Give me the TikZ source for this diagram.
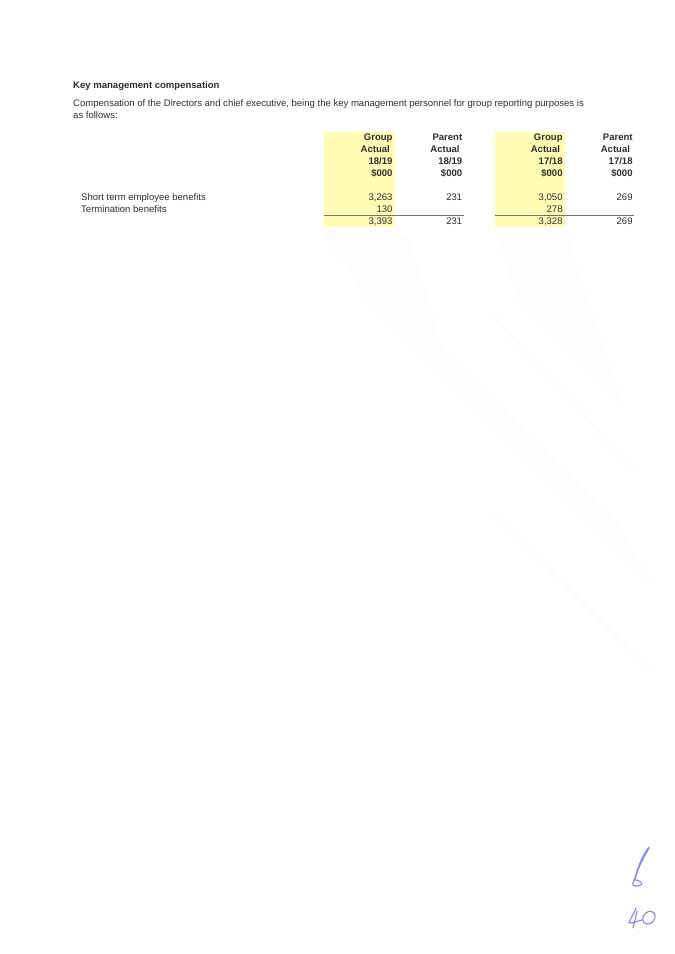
\documentclass[tikz,border=0pt]{standalone}
\usepackage{fontspec}
\setmainfont{Liberation Sans}
\definecolor{txt}{HTML}{2E2E2E}
\definecolor{hl}{HTML}{FFFDB4}
\definecolor{ghost}{HTML}{FEFBFE}
\definecolor{ink}{HTML}{8A84E6}
\tikzset{
 lab/.style={anchor=base west,inner sep=0pt,text=txt,font=\fontsize{9.54}{11}\selectfont},
 head/.style={lab,font=\fontsize{9.54}{11}\selectfont\bfseries},
 numr/.style={anchor=base east,inner sep=0pt,text=txt,font=\fontsize{9.54}{11}\selectfont},
 hnum/.style={numr,font=\fontsize{9.54}{11}\selectfont\bfseries},
 band/.style={fill=hl,draw=none},
 rulel/.style={draw=black!55,line width=1pt},
 ghostp/.style={fill=ghost,draw=none},
 pen/.style={draw=ink,line width=1.1pt,line cap=round,line join=round}
}
\begin{document}
\begin{tikzpicture}[x=1pt,y=-1pt]
\useasboundingbox (0,0) rectangle (675,954);
\fill[white] (0,0) rectangle (675,954);
% faint show-through
\fill[ghostp] (325,228)--(395,228)--(410,240)--(443,350)--(617,520)--(630,545)--(650,582)--(360,292)--(350,268)--(327,242)--cycle;
\fill[ghostp] (495,228)--(567,228)--(572,253)--(623,405)--(518,300)--cycle;
\fill[ghostp] (493,318)--(497,318)--(638,472)--(634,472)--cycle;
\fill[ghostp] (493,513)--(497,513)--(650,668)--(646,672)--cycle;
% highlight bands
\fill[band] (324.3,132.3) rectangle (394.7,226.7);
\fill[band] (494.7,132.3) rectangle (565,226.7);
\draw[rulel] (324.3,215)--(464,215);
\draw[rulel] (494.7,215)--(634,215);
% text
\node[head] (title) at (73,88) {Key management compensation};
\node[lab] (p1) at (73,106) {Compensation of the Directors and chief executive, being the key management personnel for group reporting purposes is};
\node[lab] (p2) at (73,118) {as follows:};
\node[lab] (r1) at (81,200.7) {Short term employee benefits};
\node[lab] (r2) at (81,212.5) {Termination benefits};
% column 1
\node[hnum] (a1) at (392.7,140) {Group};
\node[hnum] (a2) at (390,152.2) {Actual};
\node[hnum] (a3) at (392.7,164.3) {18/19};
\node[hnum] (a4) at (392.7,176.3) {\$000};
\node[numr] (a5) at (392.7,200.5) {3,263};
\node[numr] (a6) at (392.7,212.3) {130};
\node[numr] (a7) at (392.7,224.4) {3,393};
% column 2
\node[hnum] (b1) at (462.4,140) {Parent};
\node[hnum] (b2) at (459.8,152.2) {Actual};
\node[hnum] (b3) at (462.4,164.3) {18/19};
\node[hnum] (b4) at (462.4,176.3) {\$000};
\node[numr] (b5) at (462.4,200.5) {231};
\node[numr] (b7) at (462.4,224.4) {231};
% column 3
\node[hnum] (c1) at (562.8,140) {Group};
\node[hnum] (c2) at (560.2,152.2) {Actual};
\node[hnum] (c3) at (562.8,164.3) {17/18};
\node[hnum] (c4) at (562.8,176.3) {\$000};
\node[numr] (c5) at (562.8,200.5) {3,050};
\node[numr] (c6) at (562.8,212.3) {278};
\node[numr] (c7) at (562.8,224.4) {3,328};
% column 4
\node[hnum] (d1) at (632.8,140) {Parent};
\node[hnum] (d2) at (630.2,152.2) {Actual};
\node[hnum] (d3) at (632.8,164.3) {17/18};
\node[hnum] (d4) at (632.8,176.3) {\$000};
\node[numr] (d5) at (632.8,200.5) {269};
\node[numr] (d7) at (632.8,224.4) {269};
% handwriting
\draw[pen] (649,847) .. controls (643,855) and (638,866) .. (636,875) .. controls (635,879) and (632,883) .. (633,885) .. controls (635,887) and (640,886) .. (642,884) .. controls (641,881) and (637,880) .. (635,880) .. controls (636,870) and (644,857) .. (649,848);
\draw[pen] (648,849) .. controls (643,858) and (638,868) .. (635,878);
\draw[pen] (636,908) .. controls (634,914) and (630,919) .. (629,923) .. controls (633,923) and (638,921) .. (642,920);
\draw[pen] (637,911) .. controls (636,917) and (634,923) .. (633,928);
\draw[pen] (646,913) .. controls (641,916) and (642,924) .. (647,924) .. controls (652,925) and (656,919) .. (655,915) .. controls (654,911) and (649,910) .. (646,913);
\end{tikzpicture}
\end{document}
